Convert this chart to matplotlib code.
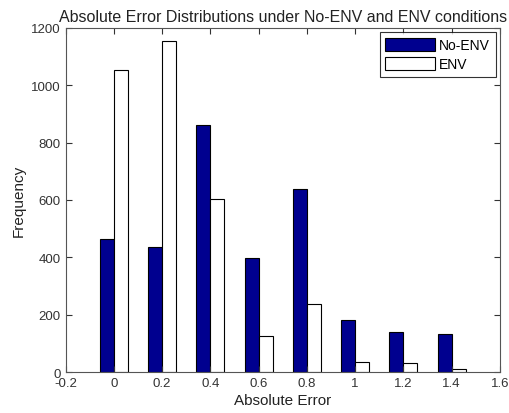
import matplotlib
matplotlib.use("Agg")
import matplotlib.pyplot as plt
import numpy as np

plt.rcParams['font.family'] = ['Liberation Sans', 'DejaVu Sans']

centers = [0.0, 0.2, 0.4, 0.6, 0.8, 1.0, 1.2, 1.4]
no_env = [463, 435, 863, 398, 638, 183, 139, 133]
env = [1055, 1155, 604, 125, 237, 34, 30, 9]
xticks = [-0.2, 0, 0.2, 0.4, 0.6, 0.8, 1, 1.2, 1.4, 1.6]
xticklabels = ['-0.2', '0', '0.2', '0.4', '0.6', '0.8', '1', '1.2', '1.4', '1.6']
yticks = [0, 200, 400, 600, 800, 1000, 1200]

fig = plt.figure(figsize=(5.09, 4.14), dpi=100)
ax = fig.add_axes([0.129, 0.099, 0.853, 0.831])

w = 0.058
x = np.array(centers)
ax.bar(x - w / 2, no_env, width=w, color='#00008F', edgecolor='#000000', linewidth=0.8, label='No-ENV')
ax.bar(x + w / 2, env, width=w, color='white', edgecolor='#000000', linewidth=0.8, label='ENV')

ax.set_xlim(-0.2, 1.6)
ax.set_ylim(0, 1200)
ax.set_xticks(xticks)
ax.set_xticklabels(xticklabels)
ax.set_yticks(yticks)
ax.tick_params(direction='in', top=True, right=True, length=4, labelsize=9.5, colors='#333333', labelcolor='#333333')
for s in ax.spines.values():
    s.set_color('#555555')
    s.set_linewidth(0.8)

ax.set_title('Absolute Error Distributions under No-ENV and ENV conditions', fontsize=11.5, color='#222222', pad=5)
ax.set_xlabel('Absolute Error', fontsize=11, color='#222222', labelpad=3)
ax.set_ylabel('Frequency', fontsize=11, color='#222222', labelpad=4)

leg = ax.legend(loc='upper right', fontsize=10, frameon=True, fancybox=False, edgecolor='#000000',
                handlelength=3.6, handleheight=1.1, borderaxespad=0.3, labelspacing=0.35,
                handletextpad=0.3, borderpad=0.4)
leg.get_frame().set_linewidth(0.8)

fig.savefig('out.png', dpi=100)
